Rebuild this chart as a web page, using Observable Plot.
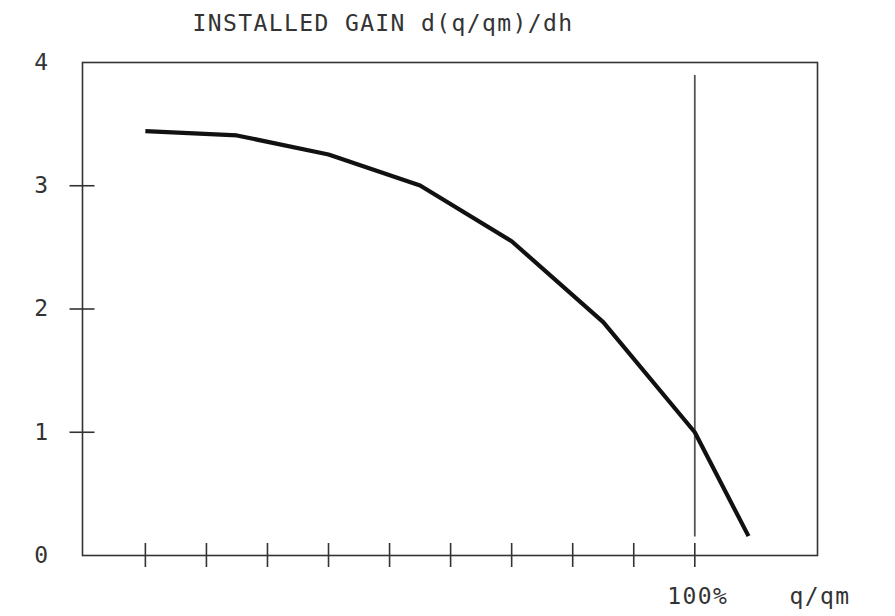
<!DOCTYPE html>
<html>
<head>
<meta charset="utf-8">
<script src="https://cdn.jsdelivr.net/npm/d3@7"></script>
<script src="https://cdn.jsdelivr.net/npm/@observablehq/plot@0.6"></script>
<style>
  html, body { margin: 0; padding: 0; background: #fff; }
  svg { display: block; }
</style>
</head>
<body>
<div id="chart"></div>
<script>
// Data
const qValues = [1, 2.5, 4, 5.5, 7, 8.5, 10, 10.88];
const gainValues = [3.443, 3.408, 3.254, 3.002, 2.55, 1.893, 1.0, 0.157];
const xTickValues = [1, 2, 3, 4, 5, 6, 7, 8, 9, 10];
const yTickMarks = [1, 2, 3];
const yTickLabels = [0, 1, 2, 3, 4];
const xLabelValues = [10, 12];
const xLabelTexts = ["100%", "q/qm"];
const referenceQ = 10;
const referenceSpan = [0.15, 3.895];
const title = "INSTALLED GAIN d(q/qm)/dh";

const curve = qValues.map((q, i) => ({q, g: gainValues[i]}));
const xLabels = xLabelValues.map((x, i) => ({x, text: xLabelTexts[i]}));

const font = "'DejaVu Sans Mono', 'Liberation Mono', monospace";

const chart = Plot.plot({
  width: 895,
  height: 616,
  marginLeft: 82,
  marginRight: 78,
  marginTop: 62,
  marginBottom: 61,
  style: {fontFamily: font, fontSize: "23px", background: "#fff"},
  x: {domain: [-0.03, 12.01], axis: null},
  y: {domain: [0, 4], axis: null},
  marks: [
    Plot.frame({stroke: "#333", strokeWidth: 1.6}),
    // x tick marks crossing the bottom axis
    Plot.ruleX(xTickValues, {x: d => d, y1: 0, y2: 0, insetTop: -12, insetBottom: -12, stroke: "#333", strokeWidth: 1.6}),
    // y tick marks crossing the left axis
    Plot.ruleY(yTickMarks, {y: d => d, x1: -0.03, x2: -0.03, insetLeft: -12.5, insetRight: -12.5, stroke: "#333", strokeWidth: 1.6}),
    // reference line at 100%
    Plot.ruleX([referenceQ], {x: d => d, y1: referenceSpan[0], y2: referenceSpan[1], stroke: "#555", strokeWidth: 1.8}),
    // gain curve
    Plot.line(curve, {x: "q", y: "g", stroke: "#111", strokeWidth: 4.2, strokeLinejoin: "round", strokeLinecap: "butt"}),
    // y tick labels
    Plot.text(yTickLabels, {x: -0.03, y: d => d, text: d => String(d), textAnchor: "end", dx: -33, fill: "#333", fontSize: 23}),
    // x labels
    Plot.text(xLabels, {x: "x", y: 0, text: "text", dy: 41.5, dx: 3, textAnchor: "middle", fill: "#333", fontSize: 23}),
    // title
    Plot.text([title], {frameAnchor: "top", text: d => d, dx: -67, dy: -47.5, fill: "#333", fontSize: 23})
  ]
});

chart.querySelectorAll("text").forEach(t => t.setAttribute("letter-spacing", "1.4"));
document.getElementById("chart").appendChild(chart);
</script>
</body>
</html>
